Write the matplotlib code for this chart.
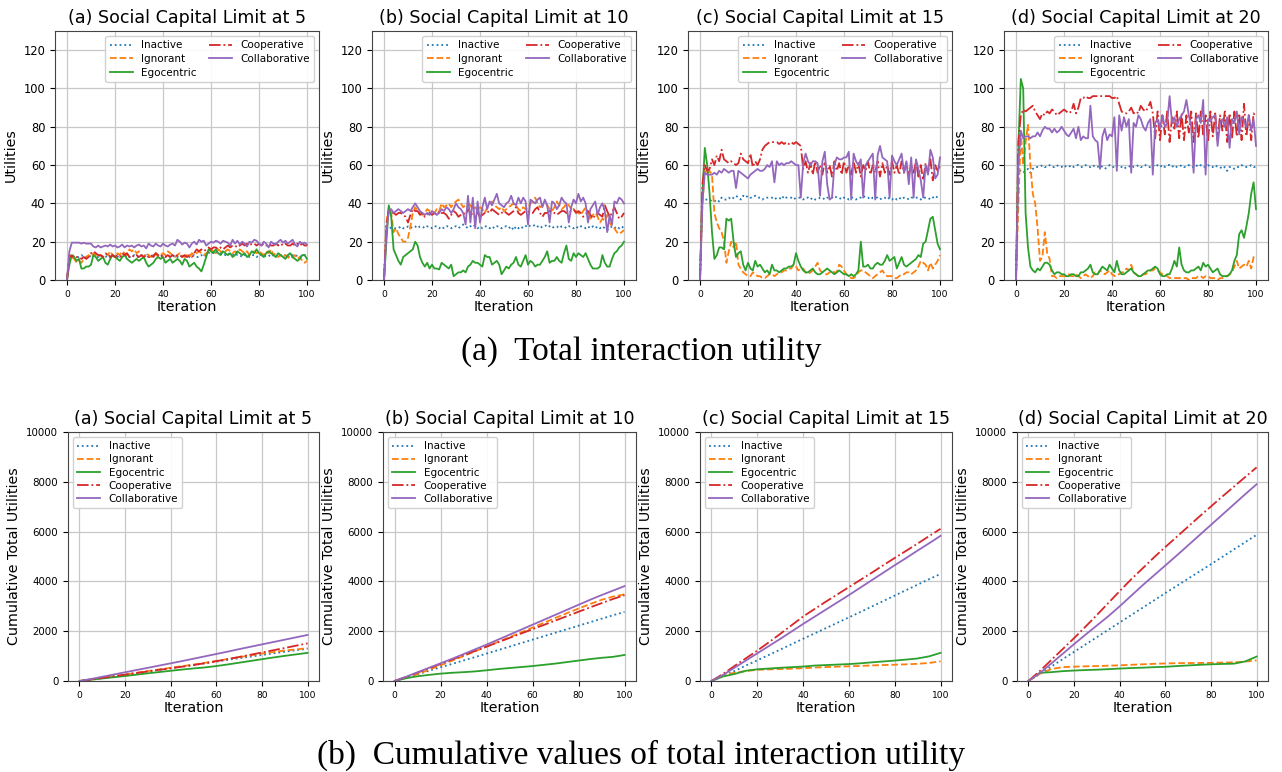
import numpy as np
import matplotlib
matplotlib.use("Agg")
import matplotlib.pyplot as plt

# ---- data -----------------------------------------------------------------
iterations = list(range(0, 101))
cum_iterations = list(range(0, 101, 5))

labels = ["Inactive", "Ignorant", "Egocentric", "Cooperative", "Collaborative"]
colors = ["tab:blue", "tab:orange", "tab:green", "tab:red", "tab:purple"]
styles = [":", "--", "-", "-.", "-"]

titles = ["(a) Social Capital Limit at 5", "(b) Social Capital Limit at 10",
          "(c) Social Capital Limit at 15", "(d) Social Capital Limit at 20"]

# limit 5, utilities per iteration
a_inactive = [0, 13, 13, 12, 12, 12, 13, 12, 12, 13,
              12, 13, 12, 12, 13, 12, 12, 13, 12, 13,
              12, 12, 13, 12, 12, 13, 12, 12, 13, 12,
              12, 13, 12, 13, 12, 12, 13, 12, 12, 13,
              12, 12, 13, 12, 12, 13, 12, 13, 12, 12,
              13, 12, 12, 13, 12, 12, 13, 12, 13, 14,
              15, 14, 14, 15, 14, 14, 13, 14, 13, 13,
              14, 13, 13, 12, 13, 13, 12, 13, 13, 12,
              13, 13, 12, 13, 13, 12, 13, 12, 13, 13,
              12, 13, 12, 13, 13, 12, 13, 12, 13, 13, 12]
a_ignorant = [0, 13, 12, 11, 9, 10, 9, 11, 12, 13,
              12, 14, 13, 12, 13, 12, 14, 13, 15, 13,
              12, 14, 13, 15, 14, 13, 16, 15, 16, 14,
              15, 13, 12, 14, 13, 12, 13, 14, 12, 13,
              14, 13, 15, 14, 13, 12, 13, 14, 13, 12,
              13, 12, 14, 13, 14, 15, 14, 13, 14, 15,
              16, 15, 14, 16, 15, 14, 15, 16, 15, 14,
              15, 14, 16, 15, 14, 15, 13, 14, 15, 14,
              15, 14, 13, 15, 14, 16, 13, 14, 12, 13,
              12, 13, 12, 11, 12, 13, 11, 12, 10, 9, 10]
a_egocentric = [0, 8, 13, 12, 10, 11, 6, 6, 7, 7,
                8, 13, 12, 10, 11, 12, 9, 8, 11, 13,
                12, 11, 10, 12, 13, 11, 10, 9, 10, 11,
                10, 11, 12, 9, 7, 8, 9, 11, 12, 11,
                12, 9, 10, 11, 9, 10, 11, 10, 8, 11,
                10, 7, 8, 9, 7, 6, 4.5, 8, 12, 16,
                15, 14, 16, 14, 13, 15, 14, 13, 14, 12,
                13, 15, 14, 13, 14, 12, 13, 15, 14, 16,
                14, 13, 12, 14, 15, 14, 13, 12, 14, 13,
                12, 11, 13, 14, 12, 11, 10, 11, 13, 13, 11]
a_cooperative = [0, 13, 12, 13, 12, 12, 11, 12, 11, 12,
                 14, 15, 14, 13, 13, 12, 13, 14, 12, 13,
                 12, 13, 12, 14, 13, 14, 12, 13, 12, 13,
                 12, 13, 12, 13, 12, 13, 12, 14, 13, 12,
                 13, 12, 13, 12, 13, 12, 13, 13, 12, 13,
                 12, 13, 12, 14, 16, 15, 16, 15, 16, 17,
                 16, 17, 17, 16, 17, 16, 17, 18, 17, 18,
                 18, 17, 18, 19, 18, 19, 18, 19, 19, 18,
                 19, 18, 19, 18, 19, 18, 18, 19, 18, 19,
                 18, 19, 18, 18, 19, 18, 19, 18, 19, 18, 18]
a_collaborative = [0, 15, 19.5, 19.5, 19.5, 19.5, 19, 19.5, 19, 19,
                   19, 17.5, 17, 18, 17, 17.5, 18, 17.5, 18.5, 17.5,
                   18, 17, 17.5, 18.5, 17, 18, 17.5, 18, 17, 18,
                   18.5, 17.5, 18, 16.5, 19, 18, 17.5, 19, 18, 17.5,
                   19, 18, 17.5, 18.5, 19, 18, 21, 20, 18.5, 19.5,
                   19, 17, 19, 20, 18.5, 21, 20, 20.5, 18, 19,
                   20, 19.5, 20.5, 20, 19, 20.5, 20, 19.5, 18, 21,
                   19, 20.5, 18.5, 20, 19, 17.5, 20, 19.5, 21, 20.5,
                   19, 18, 20, 19, 17, 20, 19, 18.5, 20, 21,
                   19.5, 20.5, 19, 20, 21, 18.5, 17.5, 20, 19, 19.5, 18.5]

# limit 10
b_inactive = [0, 28, 28, 27, 27, 27, 27, 28, 27, 27,
              28, 27, 28, 28, 27, 28, 28, 27, 28, 28,
              27, 28, 28, 27, 28, 27, 28, 28, 27, 28,
              28, 27, 28, 29, 28, 27, 28, 29, 28, 27,
              28, 27, 28, 28, 27, 28, 27, 28, 28, 27,
              28, 28, 27, 28, 26, 28, 27, 28, 27, 28,
              29, 28, 28, 29, 28, 27, 28, 28, 29, 28,
              27, 28, 28, 27, 28, 28, 27, 28, 28, 27,
              28, 27, 28, 28, 27, 28, 27, 28, 27, 28,
              27, 28, 27, 26, 27, 28, 27, 28, 27, 28, 27]
b_ignorant = [0, 30, 38, 35, 25, 27, 24, 22, 20, 20,
              22, 28, 35, 38, 36, 35, 34, 35, 37, 36,
              36, 35, 37, 36, 40, 38, 39, 40, 38, 40,
              41, 42, 40, 38, 39, 40, 39, 37, 38, 36,
              38, 37, 35, 38, 40, 41, 39, 38, 37, 38,
              36, 37, 38, 39, 40, 39, 37, 36, 38, 37,
              38, 40, 41, 43, 40, 38, 39, 40, 39, 37,
              36, 38, 41, 39, 37, 38, 40, 39, 37, 36,
              36, 35, 34, 36, 38, 35, 32, 34, 35, 33,
              30, 32, 31, 34, 30, 28, 27, 25, 24, 25, 26]
b_egocentric = [0, 20, 39, 33, 16, 13, 10, 8, 12, 13,
                14, 15, 16, 20, 18, 12, 9, 7, 9, 6,
                8, 6, 6, 5.5, 9, 8, 7, 6, 8, 2,
                3, 4, 4, 5, 4, 7, 8, 10, 9, 9,
                8, 7, 13, 12, 12, 8, 9, 10, 8, 3,
                5, 7, 6, 8, 9, 12, 8, 7, 10, 13,
                8, 10, 9, 7, 8, 8, 10, 12, 15, 9,
                10, 10, 12, 10, 9, 14, 18, 11, 10, 14,
                12, 14, 13, 12, 14, 11, 8, 6, 6, 6,
                7, 13, 9, 7, 7, 11, 14, 15, 17, 18, 20]
b_cooperative = [0, 28, 37, 35, 35, 34, 35, 35, 34, 33,
                 30, 34, 37, 36, 36, 34, 35, 33, 34, 35,
                 34, 35, 34, 36, 35, 35, 34, 32, 34, 36,
                 35, 33, 34, 35, 34, 37, 35, 34, 33, 35,
                 33, 34, 35, 36, 35, 37, 36, 35, 34, 35,
                 36, 35, 34, 35, 36, 38, 35, 34, 35, 36,
                 36, 35, 35, 37, 38, 35, 33, 35, 35, 36,
                 36, 35, 34, 35, 36, 36, 35, 35, 36, 37,
                 35, 36, 35, 33, 34, 36, 34, 32, 34, 35,
                 34, 33, 39, 36, 33, 35, 38, 35, 32, 33, 35]
b_collaborative = [0, 25, 36, 37, 35, 36, 37, 36, 35, 36,
                   37, 36, 38, 40, 38, 36, 35, 34, 35, 34,
                   36, 35, 34, 35, 37, 36, 38, 37, 35, 37,
                   40, 38, 37, 35, 29, 44, 30, 43, 27, 41,
                   30, 38, 43, 37, 41, 39, 42, 45, 40, 39,
                   38, 40, 41, 44, 40, 39, 43, 40, 43, 41,
                   29, 42, 41, 40, 42, 43, 38, 42, 39, 30,
                   41, 40, 37, 39, 43, 41, 40, 30, 38, 42,
                   40, 45, 41, 43, 40, 30, 37, 39, 41, 34,
                   38, 40, 36, 25, 34, 29, 41, 40, 43, 42, 40]

# limit 15
c_inactive = [0, 43, 42, 42, 42, 41, 41, 42, 41, 43,
              42, 42, 43, 42, 43, 44, 43, 42, 44, 43,
              44, 43, 43, 44, 43, 43, 42, 43, 43, 43,
              43, 42, 43, 43, 42, 44, 43, 43, 43, 42,
              43, 43, 43, 42, 43, 43, 42, 43, 42, 42,
              43, 43, 42, 43, 43, 43, 44, 43, 43, 42,
              43, 43, 42, 43, 43, 42, 43, 43, 44, 43,
              43, 42, 43, 43, 43, 42, 43, 43, 42, 43,
              42, 43, 42, 43, 42, 43, 43, 42, 43, 43,
              43, 43, 42, 43, 43, 43, 42, 43, 44, 43, 43]
c_ignorant = [0, 40, 57, 55, 57, 55, 35, 30, 27, 25,
              20, 9, 15, 20, 17, 20, 8, 6, 4, 3,
              2, 2, 4, 3, 2, 2, 1, 1, 2, 3,
              3, 2, 3, 4, 4, 5, 5, 6, 6, 8,
              7, 5, 6, 6, 4, 3, 4, 5, 7, 9,
              5, 4, 3, 3, 4, 5, 4, 4, 8, 7,
              5, 3, 2, 1, 1, 2, 4, 5, 5, 4,
              3, 2, 1, 2, 3, 4, 5, 3, 2, 2,
              2, 1, 1, 2, 3, 3, 4, 4, 3, 4,
              5, 7, 10, 9, 8, 5, 9, 6, 8, 10, 13]
c_egocentric = [0, 45, 69, 60, 45, 25, 11, 13, 17, 17,
                16, 32, 31, 32, 20, 12, 14, 15, 8, 5,
                9, 6, 5, 10, 7, 8, 6, 4, 5, 3,
                8, 5, 5, 4, 5, 6, 6, 7, 7, 8,
                14, 10, 7, 5, 4, 4, 5, 6, 4, 3,
                3, 4, 5, 6, 5, 4, 3, 4, 5, 4,
                3, 3, 2, 3, 2, 3, 5, 20, 7, 7,
                8, 6, 6, 8, 9, 8, 8, 10, 13, 10,
                11, 12, 6, 9, 12, 8, 7, 8, 9, 10,
                11, 13, 12, 19, 20, 26, 32, 33, 26, 19, 16]
c_cooperative = [0, 50, 60, 57, 58, 63, 60, 65, 62, 68,
                 63, 62, 61, 62, 61, 60, 61, 66, 63, 62,
                 61, 66, 59, 62, 60, 63, 68, 70, 71, 72,
                 72, 72, 72, 71, 72, 71, 72, 71, 72, 71,
                 72, 71, 70, 58, 62, 56, 61, 55, 62, 56,
                 60, 55, 62, 56, 60, 54, 62, 57, 61, 55,
                 62, 56, 60, 55, 62, 56, 61, 54, 60, 57,
                 62, 55, 60, 56, 62, 54, 61, 56, 60, 55,
                 62, 56, 60, 55, 62, 56, 61, 55, 60, 56,
                 62, 54, 60, 52, 61, 56, 63, 52, 60, 57, 60]
c_collaborative = [0, 40, 56, 55, 55, 55, 56, 55, 57, 56,
                   58, 57, 56, 57, 57, 48, 57, 56, 55, 54,
                   53, 55, 56, 57, 58, 57, 57, 58, 60, 59,
                   62, 51, 62, 60, 61, 60, 61, 61, 62, 61,
                   60, 60, 43, 61, 66, 62, 60, 62, 62, 61,
                   44, 62, 67, 50, 42, 43, 60, 64, 63, 63,
                   64, 64, 67, 42, 66, 62, 60, 63, 43, 60,
                   62, 64, 66, 42, 65, 70, 64, 63, 62, 43,
                   65, 62, 60, 63, 66, 56, 62, 50, 64, 43,
                   63, 58, 52, 43, 60, 55, 68, 64, 53, 55, 64]

# limit 20
d_inactive = [0, 57, 57, 56, 57, 58, 56, 58, 59, 59,
              59, 60, 59, 59, 60, 59, 59, 60, 59, 59,
              60, 59, 59, 60, 59, 60, 60, 59, 59, 60,
              59, 59, 60, 59, 59, 60, 59, 58, 59, 60,
              59, 59, 60, 59, 59, 58, 59, 59, 60, 59,
              59, 60, 59, 59, 60, 59, 59, 60, 59, 60,
              59, 60, 59, 60, 60, 59, 60, 59, 59, 60,
              59, 59, 60, 59, 59, 60, 59, 60, 59, 59,
              60, 59, 59, 60, 59, 59, 58, 59, 57, 59,
              59, 58, 59, 59, 60, 59, 59, 59, 60, 59, 59]
d_ignorant = [0, 40, 77, 60, 72, 81, 60, 45, 40, 27,
              10, 12, 25, 14, 11, 2, 2, 1, 2, 2,
              2, 2, 3, 2, 2, 3, 2, 1, 2, 3,
              2, 1, 2, 4, 3, 5, 4, 3, 4, 5,
              3, 2, 3, 3, 4, 4, 6, 5, 8, 4,
              3, 2, 2, 3, 3, 4, 5, 5, 6, 5,
              4, 3, 3, 2, 1, 1, 1, 1, 1, 1,
              1, 1, 0, 1, 1, 1, 2, 2, 1, 2,
              2, 1, 1, 1, 0, 1, 1, 2, 2, 3,
              4, 7, 10, 6, 7, 8, 7, 10, 6, 12, 13]
d_egocentric = [0, 70, 105, 100, 35, 17, 7, 5, 4, 6,
                5, 7, 9, 9, 8, 5, 3, 4, 4, 3,
                3, 2, 2, 3, 3, 2, 2, 4, 4, 5,
                6, 8, 4, 3, 3, 5, 7, 6, 5, 8,
                6, 4, 10, 5, 3, 3, 4, 5, 6, 4,
                3, 2, 2, 3, 4, 5, 5, 6, 7, 6,
                3, 2, 2, 3, 3, 6, 10, 7, 17, 8,
                5, 4, 4, 5, 5, 6, 7, 5, 9, 7,
                8, 6, 4, 5, 6, 3, 2, 2, 2, 3,
                5, 10, 13, 24, 26, 22, 28, 35, 45, 51, 37]
d_cooperative = [0, 72, 86, 89, 88, 89, 90, 91, 88, 86,
                 84, 87, 86, 88, 87, 89, 88, 86, 87, 88,
                 89, 88, 87, 88, 92, 87, 90, 95, 95, 96,
                 95, 95, 96, 96, 96, 96, 96, 96, 96, 96,
                 95, 95, 96, 92, 88, 87, 87, 88, 90, 87,
                 88, 87, 91, 89, 88, 90, 93, 87, 74, 88,
                 73, 86, 76, 88, 72, 85, 79, 88, 74, 87,
                 73, 86, 77, 88, 72, 87, 74, 88, 76, 86,
                 72, 88, 75, 87, 73, 86, 78, 88, 72, 87,
                 74, 88, 75, 87, 73, 92, 75, 86, 73, 87, 85]
d_collaborative = [0, 60, 78, 74, 75, 75, 74, 75, 75, 77,
                   75, 78, 80, 79, 79, 77, 79, 77, 78, 80,
                   78, 76, 75, 77, 79, 74, 80, 73, 75, 74,
                   74, 91, 75, 73, 72, 58, 75, 79, 73, 76,
                   75, 85, 57, 86, 78, 85, 80, 84, 56, 82,
                   80, 86, 84, 80, 78, 82, 84, 55, 82, 84,
                   79, 86, 80, 82, 96, 82, 85, 80, 84, 86,
                   88, 94, 86, 80, 56, 84, 86, 82, 94, 55,
                   84, 83, 85, 86, 70, 82, 84, 80, 85, 69,
                   84, 82, 88, 76, 85, 83, 80, 86, 78, 84, 70]

# cumulative totals, read every 5 iterations
cum_a_inactive = [0, 60, 125, 190, 255, 320, 385, 450, 515, 580, 645, 710, 780, 850, 915, 980, 1045, 1110, 1175, 1235, 1295]
cum_a_ignorant = [0, 60, 120, 185, 255, 330, 400, 465, 530, 595, 660, 730, 805, 880, 955, 1030, 1100, 1165, 1225, 1270, 1315]
cum_a_egocentric = [0, 50, 100, 150, 200, 255, 310, 360, 410, 460, 505, 545, 600, 665, 735, 805, 875, 945, 1010, 1070, 1130]
cum_a_cooperative = [0, 60, 125, 190, 255, 320, 385, 450, 510, 575, 640, 715, 795, 880, 965, 1055, 1145, 1235, 1325, 1420, 1510]
cum_a_collaborative = [0, 80, 170, 260, 350, 440, 530, 620, 710, 800, 895, 990, 1085, 1180, 1280, 1375, 1470, 1565, 1660, 1755, 1850]

cum_b_inactive = [0, 130, 270, 410, 550, 685, 825, 960, 1100, 1240, 1380, 1520, 1660, 1800, 1940, 2080, 2220, 2360, 2500, 2640, 2775]
cum_b_ignorant = [0, 140, 275, 450, 630, 815, 1000, 1190, 1380, 1570, 1760, 1950, 2145, 2340, 2535, 2725, 2910, 3090, 3260, 3390, 3480]
cum_b_egocentric = [0, 110, 190, 245, 295, 330, 355, 385, 430, 480, 520, 560, 600, 650, 700, 760, 820, 880, 930, 970, 1045]
cum_b_cooperative = [0, 160, 335, 510, 685, 860, 1035, 1205, 1380, 1555, 1730, 1905, 2080, 2255, 2430, 2605, 2780, 2955, 3125, 3295, 3445]
cum_b_collaborative = [0, 170, 350, 530, 710, 890, 1080, 1270, 1460, 1660, 1860, 2060, 2260, 2460, 2660, 2860, 3060, 3260, 3450, 3630, 3810]

cum_c_inactive = [0, 190, 400, 620, 830, 1045, 1260, 1480, 1695, 1910, 2125, 2340, 2555, 2770, 2990, 3210, 3430, 3650, 3870, 4090, 4300]
cum_c_ignorant = [0, 230, 330, 400, 450, 465, 480, 495, 515, 540, 560, 575, 590, 605, 625, 640, 655, 670, 690, 725, 790]
cum_c_egocentric = [0, 180, 280, 410, 470, 500, 530, 555, 580, 620, 640, 660, 680, 710, 750, 785, 820, 860, 905, 990, 1130]
cum_c_cooperative = [0, 280, 600, 910, 1220, 1550, 1890, 2240, 2590, 2890, 3190, 3480, 3770, 4060, 4350, 4650, 4940, 5230, 5520, 5820, 6110]
cum_c_collaborative = [0, 240, 530, 820, 1110, 1400, 1690, 1990, 2290, 2580, 2870, 3160, 3450, 3750, 4050, 4350, 4650, 4940, 5240, 5530, 5830]

cum_d_inactive = [0, 285, 580, 875, 1170, 1465, 1760, 2055, 2350, 2645, 2940, 3235, 3530, 3820, 4110, 4400, 4690, 4985, 5280, 5575, 5870]
cum_d_ignorant = [0, 290, 480, 555, 575, 590, 600, 615, 630, 650, 670, 690, 705, 715, 720, 725, 730, 740, 750, 780, 830]
cum_d_egocentric = [0, 330, 355, 395, 420, 440, 455, 475, 500, 520, 535, 555, 570, 600, 625, 650, 670, 685, 695, 785, 980]
cum_d_cooperative = [0, 400, 840, 1280, 1720, 2180, 2650, 3130, 3610, 4080, 4520, 4960, 5380, 5790, 6200, 6610, 7010, 7410, 7800, 8190, 8580]
cum_d_collaborative = [0, 320, 700, 1090, 1480, 1860, 2230, 2600, 3000, 3420, 3840, 4240, 4640, 5040, 5450, 5860, 6270, 6680, 7090, 7500, 7900]

top_panels = [
    [a_inactive, a_ignorant, a_egocentric, a_cooperative, a_collaborative],
    [b_inactive, b_ignorant, b_egocentric, b_cooperative, b_collaborative],
    [c_inactive, c_ignorant, c_egocentric, c_cooperative, c_collaborative],
    [d_inactive, d_ignorant, d_egocentric, d_cooperative, d_collaborative],
]
bottom_panels = [
    [cum_a_inactive, cum_a_ignorant, cum_a_egocentric, cum_a_cooperative, cum_a_collaborative],
    [cum_b_inactive, cum_b_ignorant, cum_b_egocentric, cum_b_cooperative, cum_b_collaborative],
    [cum_c_inactive, cum_c_ignorant, cum_c_egocentric, cum_c_cooperative, cum_c_collaborative],
    [cum_d_inactive, cum_d_ignorant, cum_d_egocentric, cum_d_cooperative, cum_d_collaborative],
]

# ---- layout (pixel boxes: left, top, right, bottom) ----------------------
W, H = 1282, 772
top_boxes = [(55, 31, 319, 280), (372, 31, 636, 280), (688, 31, 952, 280), (1004, 31, 1268, 280)]
bottom_boxes = [(68, 432, 319, 681), (383, 432, 636, 681), (700, 432, 952, 681), (1017, 432, 1268, 681)]


def add_axes_px(fig, box):
    left, top, right, bottom = box
    return fig.add_axes([left / W, 1 - bottom / H, (right - left) / W, (bottom - top) / H])


def style_axes(ax, title, ylabel, ytick_size):
    ax.set_title(title, fontsize=12.6)
    ax.set_xlabel("Iteration", fontsize=10.3, labelpad=1)
    ax.set_ylabel(ylabel, fontsize=10.3)
    ax.set_xlim(-5, 105)
    ax.set_xticks(range(0, 101, 20))
    ax.tick_params(axis="x", labelsize=6.6)
    ax.tick_params(axis="y", labelsize=ytick_size)
    ax.grid(True, color="#c8c8c8", linewidth=0.9)
    ax.set_axisbelow(True)
    for spine in ax.spines.values():
        spine.set_color("#444444")


fig = plt.figure(figsize=(W / 100, H / 100), dpi=100)

for box, title, series in zip(top_boxes, titles, top_panels):
    ax = add_axes_px(fig, box)
    for values, label, color, ls in zip(series, labels, colors, styles):
        ax.plot(iterations, values, ls, color=color, label=label, linewidth=1.3)
    ax.set_ylim(0, 130)
    ax.set_yticks(range(0, 121, 20))
    style_axes(ax, title, "Utilities", 8.3)
    ax.legend(ncol=2, loc="upper right", fontsize=7.5, columnspacing=1.2,
              handlelength=2.2, borderpad=0.4, labelspacing=0.35, framealpha=0.9)

for box, title, series in zip(bottom_boxes, titles, bottom_panels):
    ax = add_axes_px(fig, box)
    for values, label, color, ls in zip(series, labels, colors, styles):
        ax.plot(cum_iterations, values, ls, color=color, label=label, linewidth=1.3)
    ax.set_ylim(0, 10000)
    ax.set_yticks(range(0, 10001, 2000))
    style_axes(ax, title, "Cumulative Total Utilities", 7.4)
    ax.legend(loc="upper left", fontsize=7.5, handlelength=2.2, borderpad=0.4,
              labelspacing=0.3, framealpha=0.9)

caption_font = ["Liberation Serif", "DejaVu Serif"]
fig.text(0.5, 1 - 352 / H, "(a)  Total interaction utility", ha="center", va="center",
         fontsize=24, family=caption_font)
fig.text(0.5, 1 - 755 / H, "(b)  Cumulative values of total interaction utility", ha="center",
         va="center", fontsize=24, family=caption_font)

fig.savefig("out.png", dpi=100, facecolor="white")
plt.close(fig)
